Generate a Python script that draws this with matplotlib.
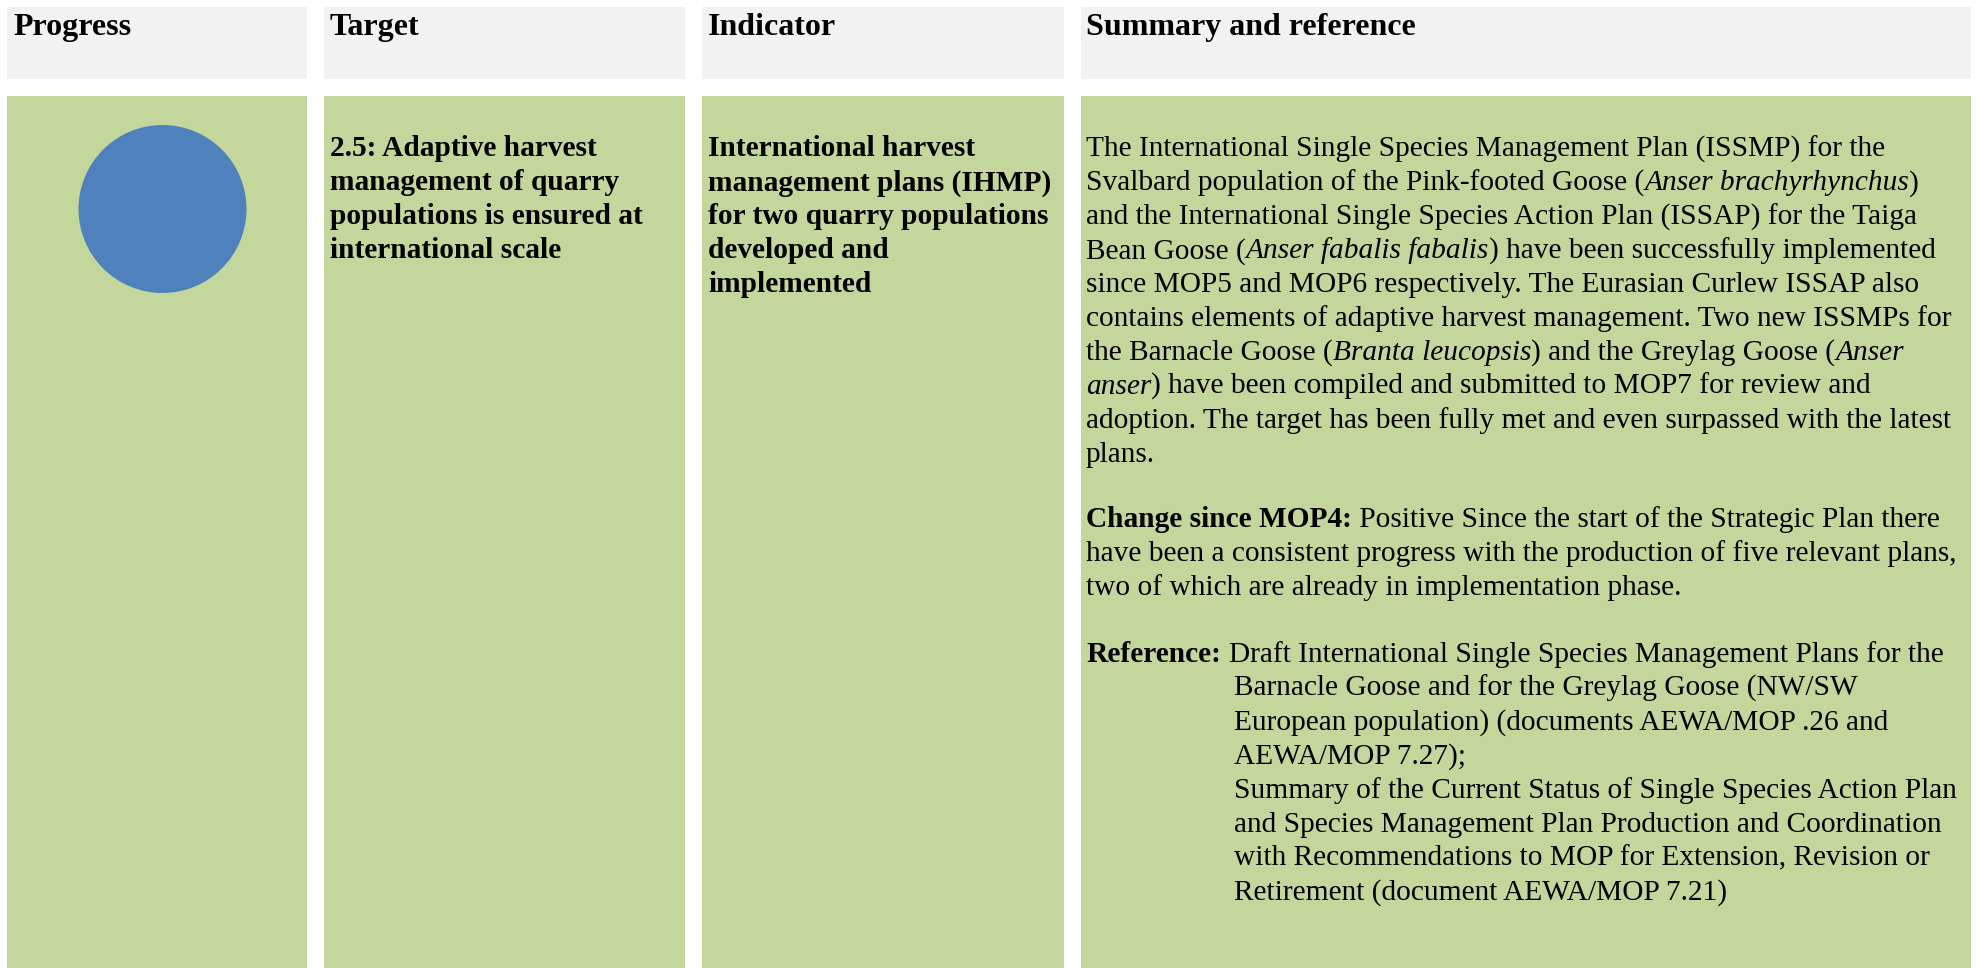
import matplotlib
matplotlib.use("Agg")
import matplotlib.pyplot as plt
from matplotlib.patches import Rectangle, Circle

plt.rcParams["font.family"] = ["Liberation Serif", "DejaVu Serif"]

# table content
headers = ["Progress", "Target", "Indicator", "Summary and reference"]
target_lines = [
    "2.5: Adaptive harvest",
    "management of quarry",
    "populations is ensured at",
    "international scale",
]
indicator_lines = [
    "International harvest",
    "management plans (IHMP)",
    "for two quarry populations",
    "developed and",
    "implemented",
]
# each line is a list of (text, style) runs
summary_lines = [
    [("The International Single Species Management Plan (ISSMP) for the", "r")],
    [("Svalbard population of the Pink-footed Goose (", "r"), ("Anser brachyrhynchus", "i"), (")", "r")],
    [("and the International Single Species Action Plan (ISSAP) for the Taiga", "r")],
    [("Bean Goose (", "r"), ("Anser fabalis fabalis", "i"), (") have been successfully implemented", "r")],
    [("since MOP5 and MOP6 respectively. The Eurasian Curlew ISSAP also", "r")],
    [("contains elements of adaptive harvest management. Two new ISSMPs for", "r")],
    [("the Barnacle Goose (", "r"), ("Branta leucopsis", "i"), (") and the Greylag Goose (", "r"), ("Anser", "i")],
    [("anser", "i"), (") have been compiled and submitted to MOP7 for review and", "r")],
    [("adoption. The target has been fully met and even surpassed with the latest", "r")],
    [("plans.", "r")],
]
change_lines = [
    [("Change since MOP4:", "b"), (" Positive Since the start of the Strategic Plan there", "r")],
    [("have been a consistent progress with the production of five relevant plans,", "r")],
    [("two of which are already in implementation phase.", "r")],
]
reference_label = "Reference:"
reference_lines = [
    "Draft International Single Species Management Plans for the",
    "Barnacle Goose and for the Greylag Goose (NW/SW",
    "European population) (documents AEWA/MOP .26 and",
    "AEWA/MOP 7.27);",
    "Summary of the Current Status of Single Species Action Plan",
    "and Species Management Plan Production and Coordination",
    "with Recommendations to MOP for Extension, Revision or",
    "Retirement (document AEWA/MOP 7.21)",
]

HEADER_BG = "#F2F2F2"
BODY_BG = "#C3D69B"
DOT = "#4F81BD"
FS = 21.2
HFS = 23

W, H = 1979, 968
fig = plt.figure(figsize=(W / 100, H / 100), dpi=100)
ax = fig.add_axes([0, 0, 1, 1])
ax.set_xlim(0, W)
ax.set_ylim(H, 0)
ax.axis("off")

# column extents in pixels
cols = [(7, 307), (324, 685), (702, 1064), (1081, 1971)]
text_x = [13, 330, 708, 1086]
for (x0, x1) in cols:
    ax.add_patch(Rectangle((x0, 7), x1 - x0, 72, color=HEADER_BG, lw=0))
    ax.add_patch(Rectangle((x0, 96), x1 - x0, H - 96, color=BODY_BG, lw=0))

for x, h in zip(text_x, headers):
    ax.text(x, 35, h, fontsize=HFS, fontweight="bold", va="baseline")

# progress marker
ax.add_patch(Circle((162.5, 209), 84, color=DOT, lw=0))

LS = 33.9
y0 = 156.5
for i, line in enumerate(target_lines):
    ax.text(text_x[1], y0 + i * LS, line, fontsize=FS, fontweight="bold", va="baseline")
for i, line in enumerate(indicator_lines):
    ax.text(text_x[2], y0 + i * LS, line, fontsize=FS, fontweight="bold", va="baseline")

renderer = fig.canvas.get_renderer()
styles = {"r": dict(), "i": dict(fontstyle="italic"), "b": dict(fontweight="bold")}


def run_width(s, st):
    # pipes keep leading/trailing spaces in the measurement
    t = ax.text(0, 0, "|" + s + "|", fontsize=FS, **styles[st])
    w = t.get_window_extent(renderer).width
    t.remove()
    t = ax.text(0, 0, "||", fontsize=FS, **styles[st])
    w -= t.get_window_extent(renderer).width
    t.remove()
    return w


def draw_runs(x, y, runs):
    for s, st in runs:
        ax.text(x, y, s, fontsize=FS, va="baseline", **styles[st])
        x += run_width(s, st)


for i, runs in enumerate(summary_lines):
    draw_runs(text_x[3], y0 + i * LS, runs)

y1 = 527
for i, runs in enumerate(change_lines):
    draw_runs(text_x[3], y1 + i * LS, runs)

y2 = 662
ax.text(text_x[3], y2, reference_label, fontsize=FS, fontweight="bold", va="baseline")
for i, line in enumerate(reference_lines):
    x = 1229 if i == 0 else 1234
    ax.text(x, y2 + i * LS, line, fontsize=FS, va="baseline")

fig.savefig("out.png", dpi=100)
